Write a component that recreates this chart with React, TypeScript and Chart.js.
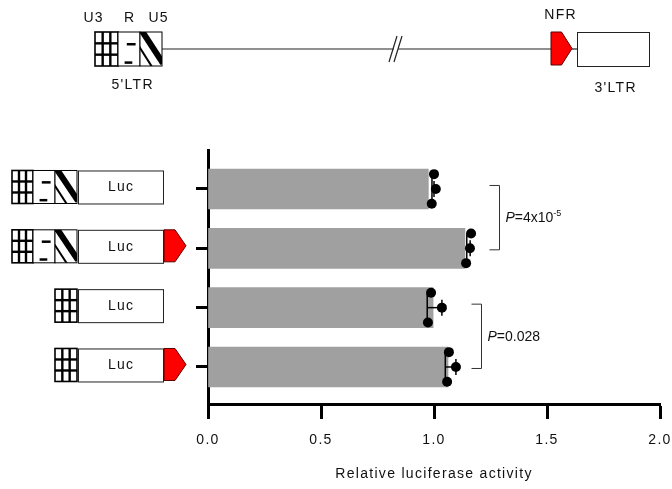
import React, { useEffect, useRef } from 'react';
import { Chart, registerables } from 'chart.js';

Chart.register(...registerables);

// ---- data ----
const categories = ['U3-R-U5 Luc', 'U3-R-U5 Luc NFR', 'U3 Luc', 'U3 Luc NFR'];
const categoryIndex = [0, 1, 2, 3];
const barValues = [0.975, 1.137, 0.996, 1.062];
const replicateTop = [1.0, 1.164, 0.987, 1.066];
const replicateMid = [1.008, 1.159, 1.035, 1.097];
const replicateBottom = [0.99, 1.142, 0.973, 1.058];
const errLow = [0.991, 1.145, 0.97, 1.05];
const errHigh = [1.0, 1.16, 1.035, 1.097];
const hasFullLTR = [true, true, false, false];
const hasNFR = [false, true, false, true];
const xTickValues = [0, 0.5, 1, 1.5, 2];
const pLabels = ['4x10', '0.028'];
const pSuperscripts = ['-5', ''];
const pPairs = [[0, 1], [2, 3]];
const xTitle = 'Relative luciferase activity';

const FONT = "'Liberation Sans', Arial, Helvetica, sans-serif";
const TEXT = '#111';
const LS = 1.3;

function line(ctx: CanvasRenderingContext2D, x1: number, y1: number, x2: number, y2: number) {
  ctx.beginPath();
  ctx.moveTo(x1, y1);
  ctx.lineTo(x2, y2);
  ctx.stroke();
}

function drawU3(ctx: CanvasRenderingContext2D, x: number, y: number, w: number, h: number) {
  ctx.save();
  ctx.fillStyle = '#fff';
  ctx.fillRect(x, y, w, h);
  ctx.strokeStyle = '#000';
  ctx.lineWidth = 2.4;
  for (let k = 1; k < 3; k++) {
    line(ctx, x + (w * k) / 3, y, x + (w * k) / 3, y + h);
    line(ctx, x, y + (h * k) / 3, x + w, y + (h * k) / 3);
  }
  ctx.lineWidth = 1.6;
  ctx.strokeRect(x, y, w, h);
  ctx.restore();
}

function drawR(ctx: CanvasRenderingContext2D, x: number, y: number, w: number, h: number) {
  ctx.save();
  ctx.fillStyle = '#fff';
  ctx.fillRect(x, y, w, h);
  ctx.strokeStyle = '#000';
  ctx.lineWidth = 2.5;
  line(ctx, x + w * 0.4, y + h * 0.36, x + w * 0.8, y + h * 0.36);
  line(ctx, x + w * 0.3, y + h * 0.9, x + w * 0.65, y + h * 0.9);
  ctx.lineWidth = 1;
  ctx.strokeRect(x, y, w, h);
  ctx.restore();
}

function drawU5(ctx: CanvasRenderingContext2D, x: number, y: number, w: number, h: number) {
  ctx.save();
  ctx.fillStyle = '#fff';
  ctx.fillRect(x, y, w, h);
  ctx.beginPath();
  ctx.rect(x, y, w, h);
  ctx.clip();
  ctx.strokeStyle = '#000';
  ctx.lineWidth = 6;
  line(ctx, x + 2, y - 1, x + w + 1, y + h * 0.92);
  ctx.lineWidth = 2;
  line(ctx, x - 1, y + h * 0.42, x + w * 0.55, y + h + 1);
  ctx.restore();
  ctx.save();
  ctx.strokeStyle = '#000';
  ctx.lineWidth = 1;
  ctx.strokeRect(x, y, w, h);
  ctx.restore();
}

function drawNFR(ctx: CanvasRenderingContext2D, x: number, y: number, w: number, h: number) {
  ctx.save();
  ctx.beginPath();
  ctx.moveTo(x, y);
  ctx.lineTo(x + w * 0.5, y);
  ctx.lineTo(x + w, y + h / 2);
  ctx.lineTo(x + w * 0.5, y + h);
  ctx.lineTo(x, y + h);
  ctx.closePath();
  ctx.fillStyle = '#ff0000';
  ctx.fill();
  ctx.strokeStyle = '#5a0000';
  ctx.lineWidth = 1;
  ctx.stroke();
  ctx.restore();
}

function drawBox(ctx: CanvasRenderingContext2D, x: number, y: number, w: number, h: number) {
  ctx.save();
  ctx.fillStyle = '#fff';
  ctx.fillRect(x, y, w, h);
  ctx.strokeStyle = '#222';
  ctx.lineWidth = 1;
  ctx.strokeRect(x + 0.5, y + 0.5, w, h);
  ctx.restore();
}

function text(ctx: CanvasRenderingContext2D, s: string, x: number, y: number, size = 14) {
  ctx.save();
  (ctx as any).letterSpacing = LS + 'px';
  ctx.font = `${size}px ${FONT}`;
  ctx.fillStyle = TEXT;
  ctx.textAlign = 'center';
  ctx.textBaseline = 'middle';
  ctx.fillText(s, x + LS / 2, y);
  ctx.restore();
}

function drawP(ctx: CanvasRenderingContext2D, x: number, y: number, main: string, sup: string) {
  ctx.save();
  (ctx as any).letterSpacing = '0px';
  ctx.fillStyle = TEXT;
  ctx.textAlign = 'left';
  ctx.textBaseline = 'middle';
  ctx.font = `italic 14px ${FONT}`;
  ctx.fillText('P', x, y);
  let cx = x + ctx.measureText('P').width;
  ctx.font = `14px ${FONT}`;
  ctx.fillText('=' + main, cx, y);
  cx += ctx.measureText('=' + main).width;
  if (sup) {
    ctx.font = `9px ${FONT}`;
    ctx.fillText(sup, cx, y - 5);
  }
  ctx.restore();
}

const letterSpacingPlugin = {
  id: 'letterSpacing',
  beforeDraw(chart: any) {
    (chart.ctx as any).letterSpacing = LS + 'px';
  },
};

const errorBarPlugin = {
  id: 'errorBars',
  afterDatasetDraw(chart: any, args: any) {
    if (args.index !== 0) return;
    const ctx: CanvasRenderingContext2D = chart.ctx;
    const xs = chart.scales.x;
    const ys = chart.scales.y;
    ctx.save();
    ctx.strokeStyle = '#000';
    ctx.lineWidth = 1.5;
    categoryIndex.forEach((ci, i) => {
      const yc = ys.getPixelForValue(ci);
      const xl = xs.getPixelForValue(errLow[i]);
      const xh = xs.getPixelForValue(errHigh[i]);
      line(ctx, xl, yc, xh, yc);
      line(ctx, xl, yc - 14, xl, yc + 14);
      line(ctx, xh, yc - 8, xh, yc + 8);
    });
    ctx.restore();
  },
};

const decorationPlugin = {
  id: 'decorations',
  afterDraw(chart: any) {
    const ctx: CanvasRenderingContext2D = chart.ctx;
    const ys = chart.scales.y;

    // ---- top provirus diagram ----
    const ty = 32;
    const th = 34;
    drawU3(ctx, 95, ty, 23, th);
    drawR(ctx, 118, ty, 22, th);
    drawU5(ctx, 140, ty, 22, th);
    ctx.save();
    ctx.strokeStyle = '#222';
    ctx.lineWidth = 1.2;
    line(ctx, 162, 49, 394, 49);
    line(ctx, 398, 49, 551, 49);
    line(ctx, 389, 62, 397, 36);
    line(ctx, 394, 62, 402, 36);
    line(ctx, 572, 49, 577, 49);
    ctx.restore();
    drawNFR(ctx, 551, 32, 21, 33);
    drawBox(ctx, 577, 32, 72, 34);
    text(ctx, 'U3', 93, 18);
    text(ctx, 'R', 129, 18);
    text(ctx, 'U5', 158, 18);
    text(ctx, "5'LTR", 132, 85);
    text(ctx, 'NFR', 560, 15);
    text(ctx, "3'LTR", 615, 88);

    // ---- constructs per row ----
    categoryIndex.forEach((ci, i) => {
      const yc = ys.getPixelForValue(ci) - 2;
      const h = 33;
      const top = yc - h / 2;
      if (hasFullLTR[i]) {
        drawU3(ctx, 12, top, 21, h);
        drawR(ctx, 33, top, 22, h);
        drawU5(ctx, 55, top, 22, h);
      } else {
        drawU3(ctx, 55, top, 22, h);
      }
      drawBox(ctx, 78, top, 85, h);
      text(ctx, 'Luc', 120.5, yc + 0.5);
      if (hasNFR[i]) drawNFR(ctx, 164, top, 22, h - 1);
    });

    // ---- significance brackets ----
    const bracketX = [499, 481];
    ctx.save();
    ctx.strokeStyle = '#333';
    ctx.lineWidth = 1;
    pPairs.forEach((pair, k) => {
      const y1 = ys.getPixelForValue(pair[0]) - 4;
      const y2 = ys.getPixelForValue(pair[1]) + 1;
      const bx = bracketX[k] + 0.5;
      ctx.beginPath();
      ctx.moveTo(bx - 10, y1 + 0.5);
      ctx.lineTo(bx, y1 + 0.5);
      ctx.lineTo(bx, y2 + 0.5);
      ctx.lineTo(bx - 10, y2 + 0.5);
      ctx.stroke();
      drawP(ctx, bx + 6, (y1 + y2) / 2 + 1, pLabels[k], pSuperscripts[k]);
    });
    ctx.restore();
  },
};

export default function App() {
  const ref = useRef<HTMLCanvasElement>(null);

  useEffect(() => {
    const canvas = ref.current;
    if (!canvas) return;

    const barData = categoryIndex.map((ci, i) => ({ x: barValues[i], y: ci }));
    const dotData: { x: number; y: number }[] = [];
    categoryIndex.forEach((ci, i) => {
      dotData.push({ x: replicateTop[i], y: ci - 0.25 });
      dotData.push({ x: replicateMid[i], y: ci });
      dotData.push({ x: replicateBottom[i], y: ci + 0.25 });
    });

    const chart = new Chart(canvas, {
      type: 'bar',
      data: {
        datasets: [
          {
            type: 'bar',
            label: 'mean',
            data: barData as any,
            indexAxis: 'y',
            backgroundColor: '#a0a0a0',
            borderWidth: 0,
            barThickness: 40,
            order: 2,
          } as any,
          {
            type: 'scatter',
            label: 'replicates',
            data: dotData as any,
            pointRadius: 5,
            pointBackgroundColor: '#000',
            pointBorderColor: '#000',
            pointBorderWidth: 0,
            showLine: false,
            order: 1,
            clip: false,
          } as any,
        ],
      },
      options: {
        responsive: false,
        animation: false,
        events: [],
        layout: { padding: { left: 194, right: 12, top: 150, bottom: 0 } },
        plugins: {
          legend: { display: false },
          tooltip: { enabled: false },
        },
        scales: {
          x: {
            type: 'linear',
            position: 'bottom',
            offset: false,
            min: 0,
            max: 2,
            afterBuildTicks: (scale: any) => {
              scale.ticks = xTickValues.map((v) => ({ value: v }));
            },
            afterFit: (scale: any) => {
              scale.height = 85;
              scale.paddingLeft = 0;
              scale.paddingRight = 0;
            },
            ticks: {
              callback: (v: any) => Number(v).toFixed(1),
              font: { family: FONT, size: 14 },
              color: TEXT,
              padding: 13,
              maxRotation: 0,
            },
            grid: {
              offset: false,
              drawOnChartArea: false,
              drawTicks: true,
              tickLength: 15,
              tickWidth: 3,
              tickColor: '#000',
            },
            border: { display: true, width: 3, color: '#000' },
            title: {
              display: true,
              text: xTitle,
              font: { family: FONT, size: 14 },
              color: TEXT,
              padding: { top: 0, bottom: 6 },
            },
          },
          y: {
            type: 'linear',
            position: 'left',
            offset: false,
            reverse: true,
            min: -0.657,
            max: 3.624,
            afterBuildTicks: (scale: any) => {
              scale.ticks = categoryIndex.map((v) => ({ value: v }));
            },
            afterFit: (scale: any) => {
              scale.width = 14;
              scale.paddingTop = 0;
              scale.paddingBottom = 0;
            },
            ticks: { display: false },
            grid: {
              offset: false,
              drawOnChartArea: false,
              drawTicks: true,
              tickLength: 12,
              tickWidth: 3,
              tickColor: '#000',
            },
            border: { display: true, width: 3, color: '#000' },
          },
        },
      } as any,
      plugins: [letterSpacingPlugin, errorBarPlugin, decorationPlugin],
    });

    return () => chart.destroy();
  }, []);

  return (
    <div style={{ position: 'absolute', left: 0, top: 0, width: 672, height: 489, background: '#fff' }}>
      <canvas ref={ref} width={672} height={489} style={{ display: 'block' }} aria-label={categories.join(', ')} />
    </div>
  );
}
